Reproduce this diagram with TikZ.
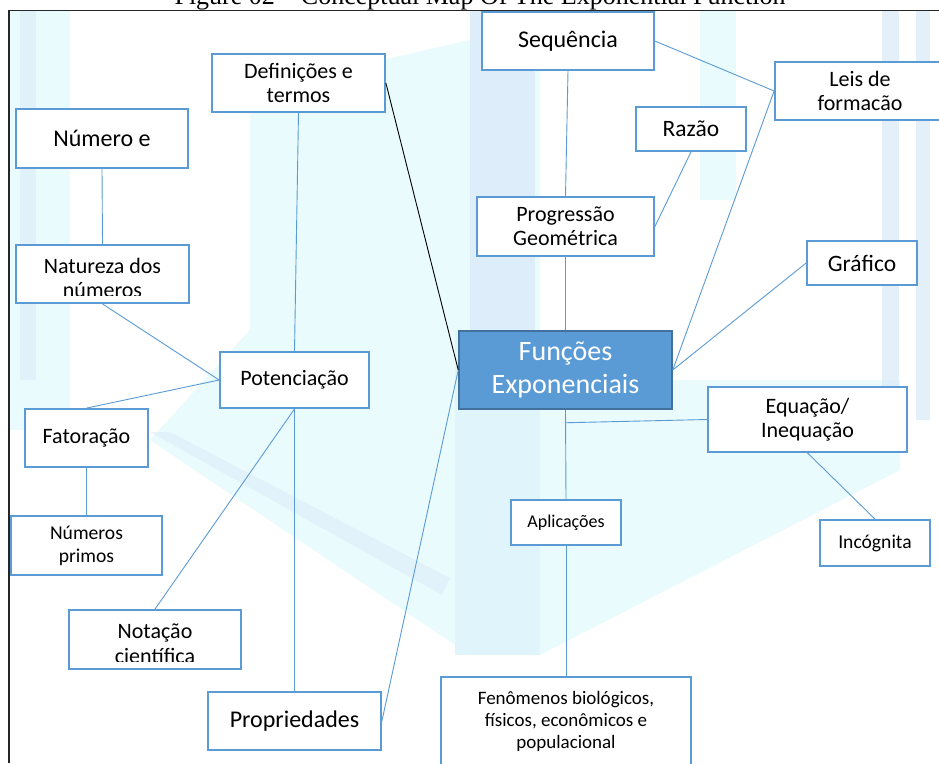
\documentclass[tikz,border=0pt]{standalone}
\usepackage{fontspec}
\setmainfont{Carlito}
\newfontfamily\titlefont{Liberation Serif}
\usetikzlibrary{calc}
\definecolor{bx}{HTML}{5B9BD5}
\definecolor{bxdark}{HTML}{41719C}
\definecolor{wmcyan}{HTML}{EAFBFD}
\definecolor{wmcyanB}{HTML}{E0F5FB}
\definecolor{wmblue}{HTML}{DDEDF9}
\begin{document}
\begin{tikzpicture}[x=1pt,y=-1pt,
  box/.style={draw=bx,line width=1.8pt,fill=white,inner sep=0pt,align=center,text=black},
  mainbox/.style={draw=bxdark,line width=1.5pt,fill=bx,inner sep=0pt,align=center,text=white},
  conn/.style={draw=bx,line width=0.9pt},
  darkconn/.style={draw=black,line width=0.9pt},
  f28/.style={font=\fontsize{28}{33}\selectfont},
  f24/.style={font=\fontsize{24}{26}\selectfont},
  f23/.style={font=\fontsize{23.5}{26}\selectfont},
  f22/.style={font=\fontsize{22}{24}\selectfont},
  f20/.style={font=\fontsize{19.6}{23}\selectfont},
  f19/.style={font=\fontsize{19}{22}\selectfont},
  f18/.style={font=\fontsize{18}{21}\selectfont},
  line/.style={anchor=base,inner sep=0pt,text=black}
]
\useasboundingbox (0,0) rectangle (939,763);
\fill[white] (0,0) rectangle (939,763);

% faint watermark in the background
\fill[wmcyan] (10,10) rectangle (70,430);
\fill[wmblue,opacity=0.7] (20,10) rectangle (36,380);
\fill[wmcyan] (250,90) -- (470,40) -- (540,40) -- (540,655) -- (470,655) -- (150,440) -- (250,330) -- cycle;
\fill[wmcyanB] (455,330) rectangle (540,655);
\fill[wmblue] (470,10) rectangle (535,330);
\fill[wmcyan] (540,380) -- (900,380) -- (900,470) -- (540,655) -- cycle;
\fill[wmblue,opacity=0.6] (150,432) -- (170,432) -- (450,578) -- (442,595) -- cycle;
\fill[wmblue,opacity=0.8] (882,10) rectangle (899,420);
\fill[wmblue,opacity=0.8] (916,10) rectangle (930,420);
\fill[wmcyan] (700,10) rectangle (736,200);

% title (cut by the top edge, as in the source) and frame
\node[font=\titlefont\fontsize{26}{28}\selectfont,anchor=base,inner sep=0pt] (title) at (480,4) {Figure 02 – Conceptual Map Of The Exponential Function};
\draw[line width=1.3pt,black!85] (9,763) -- (9,10.5) -- (939,10.5);

% boxes
\node[box,f22,minimum width=173pt,minimum height=58pt] (defin) at (298.5,83) {Definições e\\termos};
\node[box,f24,minimum width=172pt,minimum height=59pt] (numeroe) at (102,138.5) {Número e};
\node[box,minimum width=173pt,minimum height=58pt] (natureza) at (102.5,274) {};
\node[box,f22,minimum width=149pt,minimum height=56pt] (potenc) at (294.5,380) {Potenciação};
\node[box,f22,minimum width=123pt,minimum height=58pt] (fator) at (86.5,438) {Fatoração};
\node[box,f20,minimum width=151pt,minimum height=59pt] (primos) at (86.5,545.5) {Números\\primos};
\node[box,minimum width=172pt,minimum height=59pt] (notacao) at (155,639.5) {};
\node[box,f24,minimum width=173pt,minimum height=58pt] (propr) at (294.5,721) {Propriedades};
\node[box,f24,minimum width=172pt,minimum height=58pt] (sequencia) at (568,41) {Sequência};
\node[box,f22,minimum width=170pt,minimum height=58pt] (leis) at (860,91) {Leis de\\formacão};
\node[box,f23,minimum width=110pt,minimum height=44pt] (razao) at (691,129) {Razão};
\node[box,f22,minimum width=177pt,minimum height=59pt] (pg) at (565.5,226.5) {Progressão\\Geométrica};
\node[box,f23,minimum width=110pt,minimum height=44pt] (grafico) at (862,263) {Gráfico};
\node[mainbox,f28,minimum width=213pt,minimum height=78pt] (funcoes) at (565.5,370) {Funções\\Exponenciais};
\node[box,f22,minimum width=199pt,minimum height=65pt] (equacao) at (807.5,419.5) {Equação/\\Inequação};
\node[box,f18,minimum width=110pt,minimum height=45pt] (aplic) at (566,522.5) {Aplicações};
\node[box,f20,minimum width=110pt,minimum height=46pt] (incog) at (875,543) {Incógnita};
\node[box,minimum width=250pt,minimum height=103pt] (fenom) at (566,728.5) {};

% texts of the boxes whose lines are cut or placed by hand
\begin{scope}
  \clip ($(natureza.south west)+(0,-8)$) rectangle (natureza.north east);
  \node[line,f22] (natA) at (102.5,273) {Natureza dos};
  \node[line,f22] (natB) at (102.5,297.5) {números};
\end{scope}
\begin{scope}
  \clip ($(notacao.south west)+(0,-8.5)$) rectangle (notacao.north east);
  \node[line,f22] (notA) at (155,638.3) {Notação};
  \node[line,f22] (notB) at (155,663.5) {científica};
\end{scope}
\node[line,f19] (fenA) at (566,704) {Fenômenos biológicos,};
\node[line,f19] (fenB) at (566,726) {físicos, econômicos e};
\node[line,f19] (fenC) at (566,748) {populacional};

% connectors
\draw[conn] (numeroe.south) -- (natureza.north);
\draw[conn] (defin.south) -- (potenc.north);
\draw[darkconn] (defin.east) -- (funcoes.west);
\draw[conn] (natureza.south) -- (potenc.west);
\draw[conn] (potenc.west) -- (fator.north);
\draw[conn] (fator.south) -- (primos.north);
\draw[conn] (potenc.south) -- (notacao.north);
\draw[conn] (potenc.south) -- (propr.north);
\draw[conn] (propr.east) -- (funcoes.west);
\draw[conn] (sequencia.east) -- (leis.west);
\draw[conn] (sequencia.south) -- (pg.north);
\draw[conn] (razao.south) -- (pg.east);
\draw[conn] (leis.west) -- (funcoes.east);
\draw[conn] (grafico.west) -- (funcoes.east);
\draw[conn] (pg.south) -- (funcoes.north);
\draw[conn] (funcoes.south) -- (aplic.north);
\coordinate (eqj) at ($(funcoes.south)+(0,13)$);
\draw[conn] (eqj) -- (equacao.west);
\draw[conn] (equacao.south) -- (incog.north);
\draw[conn] (aplic.south) -- (fenom.north);
\end{tikzpicture}
\end{document}
